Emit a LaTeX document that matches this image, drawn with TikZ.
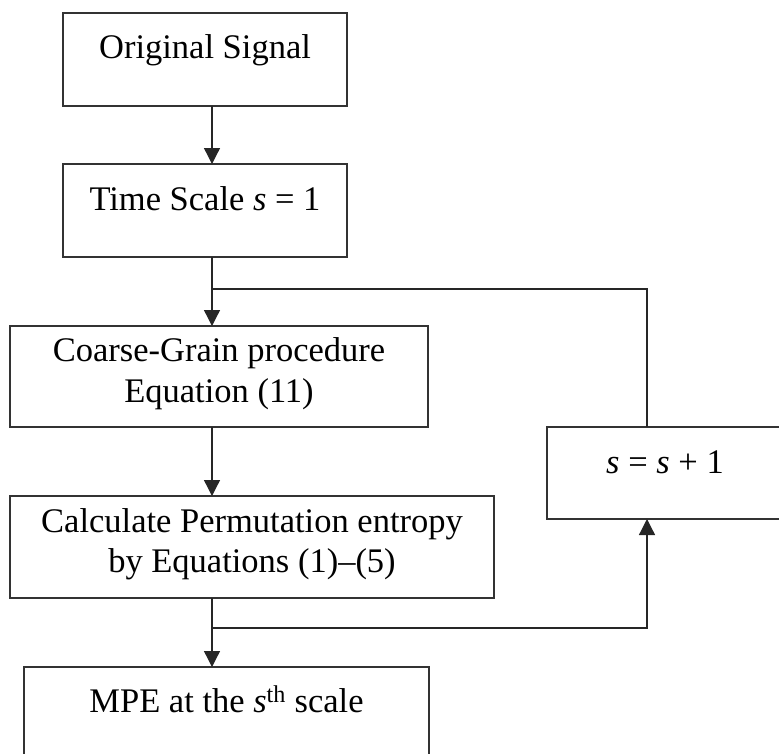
\documentclass[tikz,border=0pt]{standalone}
\usepackage{fontspec}
\setmainfont{Liberation Serif}
\usetikzlibrary{arrows.meta}
\begin{document}
\begin{tikzpicture}[x=1pt,y=-1pt,
  box/.style={draw=black!80, line width=1.3pt, inner sep=0pt, outer sep=0pt},
  lbl/.style={inner sep=0pt, font=\fontsize{34.5}{41}\selectfont, text=black, anchor=base},
  wire/.style={draw=black!85, line width=1.3pt},
  arr/.style={wire, -{Triangle[length=16pt,width=16pt]}}]
\useasboundingbox (0,0) rectangle (779,753);
\clip (0,0) rectangle (779,753);

% process boxes
\node[box, minimum width=284pt, minimum height=93pt]  (b1) at (205,59.5) {};
\node[box, minimum width=284pt, minimum height=93pt]  (b2) at (205,210.5) {};
\node[box, minimum width=418pt, minimum height=101pt] (b3) at (219,376.5) {};
\node[box, minimum width=484pt, minimum height=102pt] (b4) at (252,547) {};
\node[box, minimum width=236pt, minimum height=92pt]  (bs) at (665,473) {};
\node[box, minimum width=405pt, minimum height=113pt] (b5) at (226.5,723.5) {};

% box texts
\node[lbl] (t1)  at (205,58)  {Original Signal};
\node[lbl] (t2)  at (205,210) {Time Scale \textit{s} = 1};
\node[lbl] (t3a) at (219,361) {Coarse-Grain procedure};
\node[lbl] (t3b) at (219,402) {Equation (11)};
\node[lbl] (t4a) at (252,532) {Calculate Permutation entropy};
\node[lbl] (t4b) at (252,572) {by Equations (1)--(5)};
\node[lbl] (ts)  at (665,473) {\textit{s} = \textit{s} + 1};
\node[lbl] (t5)  at (226.5,712) {MPE at the \textit{s}\textsuperscript{th} scale};

% main flow column and loop column
\coordinate (col)   at (212,0);
\coordinate (loopx) at (647,0);
\coordinate (j1)    at (212,289);
\coordinate (j2)    at (212,628);

\draw[arr] (b1.south -| col) -- (b2.north -| col);
\draw[arr] (b2.south -| col) -- (b3.north -| col);
\draw[arr] (b3.south -| col) -- (b4.north -| col);
\draw[arr] (b4.south -| col) -- (b5.north -| col);

% feedback loop
\draw[wire] (j1) -- (j1 -| loopx) -- (bs.north -| loopx);
\draw[arr]  (j2) -- (j2 -| loopx) -- (bs.south -| loopx);
\end{tikzpicture}
\end{document}
